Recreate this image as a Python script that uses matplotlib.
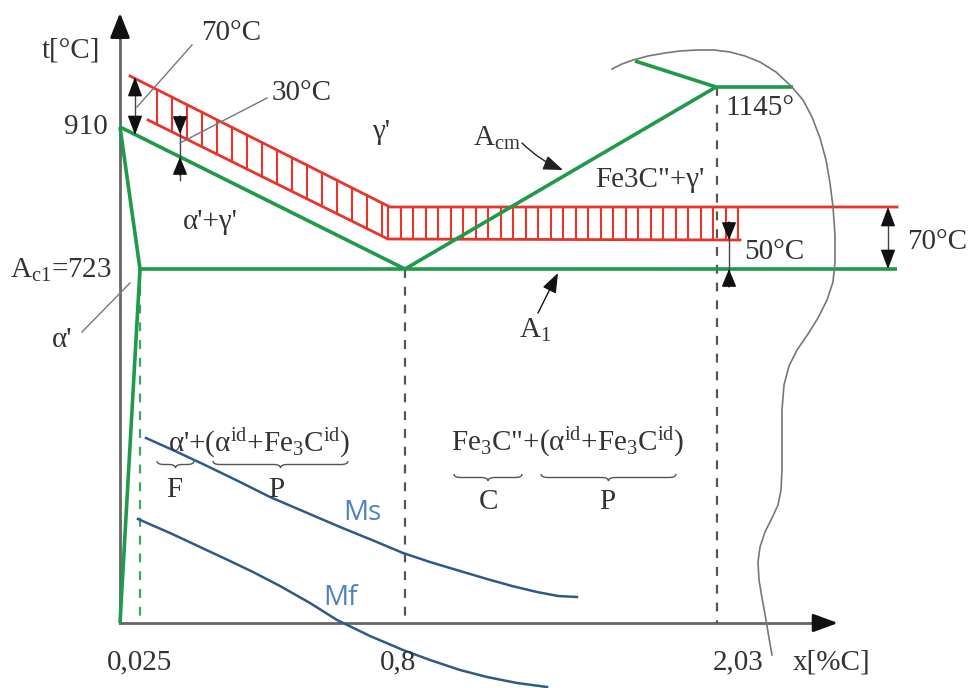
import numpy as np
import matplotlib
matplotlib.use('Agg')
import matplotlib.pyplot as plt
from matplotlib.path import Path
from matplotlib.patches import PathPatch

plt.rcParams['font.family'] = ['Liberation Serif', 'DejaVu Serif']
plt.rcParams['mathtext.fontset'] = 'custom'
plt.rcParams['mathtext.rm'] = 'Liberation Serif'
plt.rcParams['mathtext.it'] = 'Liberation Serif:italic'
plt.rcParams['mathtext.bf'] = 'Liberation Serif:bold'

# ---------------- schematic data (canvas units, y downward) ----------------
origin = (120, 623)
x_axis_tip = 838
y_axis_tip = 13

x_0025, x_08, x_203 = 140, 405, 717          # composition positions
y_910, y_A1, y_1145 = 127, 269, 87           # temperature positions

# green phase boundaries
GOS_x, GOS_y = [120, 405], [127, 269]
GP_x, GP_y = [120, 140], [127, 269]
PQ_x, PQ_y = [140, 120], [269, 623]
A1_x, A1_y = [140, 897], [269, 269]
ACM_x, ACM_y = [405, 716], [269, 87]
TOP_x, TOP_y = [635, 716, 793], [61, 87, 87]

# red hardening-temperature band
band_up_x, band_up_y = [130, 390, 897], [76, 207, 207]
band_lo_x, band_lo_y = [148, 388, 740], [120, 239, 240]
band_end_x = 738

# Ms / Mf curves
Ms_x = [146, 175, 205, 240, 270, 305, 340, 372, 403, 430, 460, 487, 512, 537, 558, 577]
Ms_y = [438, 451, 465, 482, 497, 512, 527, 540, 553, 562, 571, 579, 586, 592, 596, 597]
Mf_x = [138, 170, 200, 230, 253, 280, 310, 337, 370, 403, 430, 460, 487, 517, 547]
Mf_y = [519, 533, 547, 561, 572, 586, 603, 620, 636, 650, 660, 670, 677, 683, 687]

# wavy break line
wave_x = [612, 622, 633, 648, 665, 680, 697, 714, 730, 745, 760, 776, 792, 803,
          812, 820, 826, 830, 833, 835, 835, 833, 827, 818, 808, 797, 789, 784,
          782, 782, 782, 781, 778, 772, 765, 760, 758, 759, 762, 766, 769, 772]
wave_y = [69, 64, 60, 56, 53, 51, 50, 50, 52, 56, 62, 72, 87, 100,
          117, 138, 160, 183, 207, 235, 262, 282, 300, 318, 334, 350, 366, 385,
          410, 440, 470, 490, 505, 518, 532, 547, 562, 580, 598, 620, 638, 655]

GREEN = '#1f9a4b'
RED = '#e8352b'
GREY = '#666666'
TXT = '#333333'
BLUE = '#4f82c4'
NAVY = '#2f5a86'

fig = plt.figure(figsize=(9.72, 6.88), dpi=100)
ax = fig.add_axes([0, 0, 1, 1])
ax.set_xlim(0, 972)
ax.set_ylim(688, 0)
ax.axis('off')


def arrow(tail, tip, hl=1.4, hw=0.5, color='#111111', lw=1.0):
    ax.annotate('', xy=tip, xytext=tail,
                arrowprops=dict(arrowstyle=f'-|>,head_length={hl},head_width={hw}',
                                color=color, lw=lw, shrinkA=0, shrinkB=0,
                                mutation_scale=10))


def brace(x0, x1, y, h=3.5, color='#555555'):
    xm = (x0 + x1) / 2
    verts = [(x0, y), (x0, y + h), (x0 + 2 * h, y + h),
             (xm - 2 * h, y + h), (xm, y + h), (xm, y + 2 * h),
             (xm, y + h), (xm + 2 * h, y + h),
             (x1 - 2 * h, y + h), (x1, y + h), (x1, y)]
    codes = [Path.MOVETO, Path.CURVE3, Path.CURVE3,
             Path.LINETO, Path.CURVE3, Path.CURVE3,
             Path.CURVE3, Path.CURVE3,
             Path.LINETO, Path.CURVE3, Path.CURVE3]
    ax.add_patch(PathPatch(Path(verts, codes), fill=False, ec=color, lw=1.0))


# ---------------- axes ----------------
ax.plot([origin[0], x_axis_tip - 15], [origin[1], origin[1]], color=GREY, lw=2)
ax.plot([origin[0], origin[0]], [origin[1], y_axis_tip + 15], color=GREY, lw=2)
arrow((x_axis_tip - 25, origin[1]), (x_axis_tip, origin[1]), hl=1.5, hw=0.55, lw=2)
arrow((origin[0], y_axis_tip + 25), (origin[0], y_axis_tip), hl=1.5, hw=0.6, lw=2)

# dashed verticals
ax.plot([x_0025, x_0025], [y_A1, origin[1]], color='#3aa862', lw=1.6, ls=(0, (4, 4)))
ax.plot([x_08, x_08], [y_A1, origin[1]], color='#555555', lw=1.6, ls=(0, (4, 4)))
ax.plot([x_203, x_203], [y_1145, origin[1]], color='#555555', lw=1.6, ls=(0, (4, 4)))

# ---------------- red band with hatching ----------------
ax.plot(band_up_x, band_up_y, color=RED, lw=2)
ax.plot(band_lo_x, band_lo_y, color=RED, lw=2)
hatch_a = np.arange(157, 388, 15.0)
hatch_b = np.linspace(388, band_end_x, 29)
for hx in np.concatenate([hatch_a, hatch_b]):
    ax.plot([hx, hx], [np.interp(hx, band_up_x, band_up_y),
                       np.interp(hx, band_lo_x, band_lo_y)], color=RED, lw=1.5)

# ---------------- green lines ----------------
for xs, ys in [(GOS_x, GOS_y), (GP_x, GP_y), (PQ_x, PQ_y), (A1_x, A1_y),
               (ACM_x, ACM_y), (TOP_x, TOP_y)]:
    ax.plot(xs, ys, color=GREEN, lw=2.6, solid_capstyle='butt')

# Ms, Mf
ax.plot(Ms_x, Ms_y, color=NAVY, lw=1.8, solid_joinstyle='round')
ax.plot(Mf_x, Mf_y, color=NAVY, lw=1.8, solid_joinstyle='round')

# wavy line
ax.plot(wave_x, wave_y, color='#777777', lw=1.2, solid_joinstyle='round')

# ---------------- dimension arrows ----------------
# 70 C left (double arrow)
ax.plot([135, 135], [90, 122], color='#444444', lw=1.0)
arrow((135, 95), (135, 77), hl=1.2, hw=0.45)
arrow((135, 118), (135, 135), hl=1.2, hw=0.45)
ax.plot([137, 192], [107, 45], color='#777777', lw=1.0)
# 30 C
ax.plot([180, 180], [116, 180], color='#444444', lw=1.0)
arrow((180, 116), (180, 134), hl=1.1, hw=0.45)
arrow((180, 175), (180, 157), hl=1.1, hw=0.45)
ax.plot([180, 267], [143, 98], color='#777777', lw=1.0)
# 50 C
ax.plot([729, 729], [222, 285], color='#444444', lw=1.0)
arrow((729, 222), (729, 240), hl=1.1, hw=0.45)
arrow((729, 287), (729, 269), hl=1.1, hw=0.45)
# 70 C right (double arrow)
ax.plot([888, 888], [220, 256], color='#444444', lw=1.0)
arrow((888, 225), (888, 207), hl=1.2, hw=0.45)
arrow((888, 251), (888, 269), hl=1.2, hw=0.45)

# leaders
ax.plot([82, 130], [332, 283], color='#777777', lw=1.0)
ax.annotate('', xy=(563, 170), xytext=(522, 143),
            arrowprops=dict(arrowstyle='-|>,head_length=1.2,head_width=0.45',
                            color='#222222', lw=1.0, shrinkA=0, shrinkB=0,
                            mutation_scale=10, connectionstyle='arc3,rad=0.1'))
arrow((538, 313), (558, 273), hl=1.2, hw=0.45)

# braces
brace(157, 194, 461)
brace(213, 348, 461)
brace(454, 522, 474)
brace(541, 676, 474)

# ---------------- texts ----------------
fs = 21
def t(x, y, s, size=fs, color=TXT, **kw):
    ax.text(x, y, s, fontsize=size, color=color, ha='center', va='center', **kw)

t(71, 50, 't[°C]')
t(86, 127, '910')
t(231, 33, '70°C')
t(302, 93, '30°C')
t(381, 132, "γ'")
t(210, 222, "α'+γ'")
t(61, 270, r"A$_{\mathrm{c1}}$=723")
t(62, 340, "α'")
t(497, 138, r"A$_{\mathrm{cm}}$")
t(650, 180, 'Fe3C"+γ\'')
t(760, 108, '1145°')
t(774, 252, '50°C')
t(937, 242, '70°C')
t(535, 330, r"A$_{1}$")
t(259, 443, r"α'+(α$^{\mathrm{id}}$+Fe$_{3}$C$^{\mathrm{id}}$)")
t(568, 442, r'Fe$_{3}$C"+(α$^{\mathrm{id}}$+Fe$_{3}$C$^{\mathrm{id}}$)')
t(174, 490, 'F')
t(276, 490, 'P')
t(488, 502, 'C')
t(607, 502, 'P')
t(140, 662, '0,025')
t(398, 662, '0,8')
t(738, 662, '2,03')
t(832, 662, 'x[%C]')
t(362, 513, 'Ms', size=20, color=BLUE, family=['Open Sans', 'DejaVu Sans'])
t(340, 598, 'Mf', size=20, color=BLUE, family=['Open Sans', 'DejaVu Sans'])

fig.savefig('out.png', dpi=100)
